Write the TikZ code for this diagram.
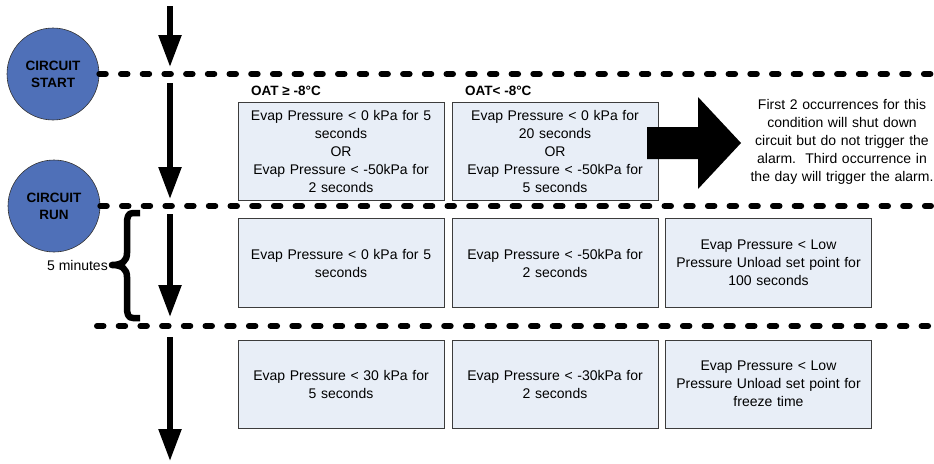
\documentclass[tikz,border=0pt]{standalone}
\usepackage{fontspec}
\setmainfont{Liberation Sans}
\usetikzlibrary{arrows.meta}
\definecolor{circblue}{RGB}{79,112,184}
\definecolor{boxfill}{RGB}{232,238,247}
\definecolor{boxline}{RGB}{60,60,60}
\tikzset{
  circ/.style={circle, draw=black!80, line width=0.6pt, fill=circblue, minimum size=92pt, inner sep=0pt, align=center, font=\fontsize{13.5}{17}\selectfont\bfseries},
  cbox/.style={rectangle, draw=boxline, line width=0.8pt, fill=boxfill, minimum width=206pt, align=center, text width=195pt, inner sep=0pt, font=\fontsize{14}{18}\selectfont},
  dashline/.style={line width=6pt, line cap=round, dash pattern=on 6.5pt off 15.2pt},
  vflow/.style={line width=5.5pt, -{Triangle[width=22pt,length=32pt]}},
  oat/.style={anchor=west, font=\fontsize{13.5}{16}\selectfont\bfseries, inner sep=0pt},
  plain/.style={font=\fontsize{14}{18}\selectfont, align=center, inner sep=0pt}
}
\begin{document}
\begin{tikzpicture}[x=1pt,y=-1pt]
\useasboundingbox (0,0) rectangle (934,463);
% circles
\node[circ] (cs) at (53,74) {CIRCUIT\\START};
\node[circ] (cr) at (54,206) {CIRCUIT\\RUN};
% dashed lines
\coordinate (d1e) at (931,74);
\coordinate (d2e) at (931,206);
\coordinate (d3s) at (97,326);
\coordinate (d3e) at (931,326);
\draw[dashline] (cs.east) -- (d1e);
\draw[dashline] (cr.east) -- (d2e);
\draw[dashline] (d3s) -- (d3e);
% vertical arrows
\coordinate (v1s) at (170,6);   \coordinate (v1e) at (170,67);
\coordinate (v2s) at (170,83);  \coordinate (v2e) at (170,199);
\coordinate (v3s) at (170,214); \coordinate (v3e) at (170,317);
\coordinate (v4s) at (170,337); \coordinate (v4e) at (170,461);
\draw[vflow] (v1s) -- (v1e);
\draw[vflow] (v2s) -- (v2e);
\draw[vflow] (v3s) -- (v3e);
\draw[vflow] (v4s) -- (v4e);
% brace
\draw[line width=6.5pt, line join=round] (140,213) -- (133,213) .. controls (128,213) and (127,217) .. (127,224) -- (127,253) .. controls (127,261) and (122,265) .. (112,265) .. controls (122,265) and (127,269) .. (127,277) -- (127,307) .. controls (127,314) and (128,318) .. (133,318) -- (140,318);
\node[plain, anchor=east] (min) at (108,265) {5 minutes};
% row 1
\node[oat] (oat1) at (251,91) {OAT ≥ -8°C};
\node[oat] (oat2) at (465,91) {OAT< -8°C};
\node[cbox, minimum height=98pt] (a1) at (341,151) {Evap Pressure < 0 kPa for 5\\seconds\\OR\\Evap Pressure < -50kPa for\\2 seconds};
\node[cbox, minimum height=98pt] (b1) at (555,151) {Evap Pressure < 0 kPa for\\20 seconds\\OR\\Evap Pressure < -50kPa for\\5 seconds};
% big arrow
\fill[black] (647,127) -- (698,127) -- (698,97) -- (741,143) -- (698,189) -- (698,159) -- (647,159) -- cycle;
\node[plain, text width=190pt] (note) at (842,142) {First 2 occurrences for this\\condition will shut down\\circuit but do not trigger the\\alarm.\ \ Third occurrence in\\the day will trigger the alarm.};
% row 2
\node[cbox, minimum height=89pt] (a2) at (341,263) {Evap Pressure < 0 kPa for 5\\seconds};
\node[cbox, minimum height=89pt] (b2) at (555,263) {Evap Pressure < -50kPa for\\2 seconds};
\node[cbox, minimum height=89pt] (c2) at (768.5,263) {Evap Pressure < Low\\Pressure Unload set point for\\100 seconds};
% row 3
\node[cbox, minimum height=88pt] (a3) at (341,384) {Evap Pressure < 30 kPa for\\5 seconds};
\node[cbox, minimum height=88pt] (b3) at (555,384) {Evap Pressure < -30kPa for\\2 seconds};
\node[cbox, minimum height=88pt] (c3) at (768.5,384) {Evap Pressure < Low\\Pressure Unload set point for\\freeze time};
\end{tikzpicture}
\end{document}
